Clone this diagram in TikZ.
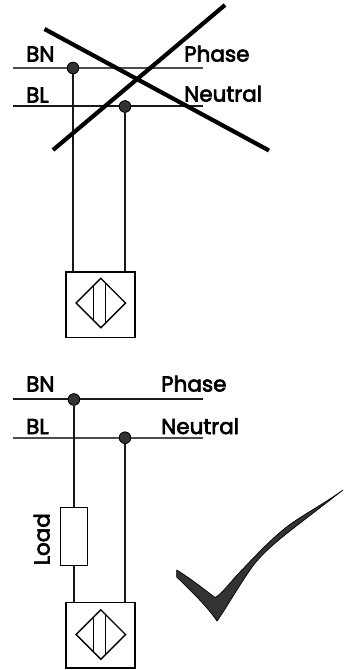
\documentclass[tikz,border=0pt]{standalone}
\usepackage{fontspec}
\setmainfont{Poppins}[FakeBold=3]
\usetikzlibrary{shapes.geometric}
\tikzset{
  wire/.style={draw=black!90,line width=1.7pt},
  thin wire/.style={draw=black!70,line width=1.7pt},
  cross/.style={draw=black,line width=4.2pt},
  dot/.style={circle,fill=black!80,draw=black,line width=.7pt,inner sep=0pt,minimum size=11.5pt},
  lbl/.style={anchor=base west,inner sep=0pt,font=\fontsize{21.5}{22}\selectfont},
  sensor/.style={rectangle,draw=black,line width=1.5pt,fill=white,inner sep=0pt,minimum width=69pt,minimum height=65.5pt},
  gem/.style={diamond,aspect=1,draw=black,line width=1.4pt,inner sep=0pt,minimum width=50pt,minimum height=50pt},
  loadbox/.style={rectangle,draw=black,line width=1.5pt,fill=white,inner sep=0pt,minimum width=27pt,minimum height=58pt},
}
\begin{document}
\begin{tikzpicture}[x=1pt,y=-1pt]
\useasboundingbox (0,0) rectangle (350,670);
% upper circuit
\coordinate (a1) at (13,68); \coordinate (a2) at (203,68);
\coordinate (b1) at (13,106); \coordinate (b2) at (203,106);
\node[dot] (d1) at (73,68) {};
\node[dot] (d2) at (125,106.5) {};
\node[sensor] (s1) at (100.5,304.5) {};
\node[gem] (g1) at (100.8,303) {};
\draw[thin wire] (a1) -- (a2);
\draw[wire] (b1) -- (b2);
\draw[wire] (d1) -- (d1 |- s1.north);
\draw[wire] (d2) -- (d2 |- s1.north);
\node[dot] at (d1) {};
\node[dot] at (d2) {};
\draw[line width=1.4pt] (93.7,285) -- (93.7,320.5) (105.2,283.5) -- (105.2,322);
\node[lbl] (t1) at (26,61.5) {BN};
\node[lbl] (t2) at (26,102.5) {BL};
\node[lbl] (t3) at (184,61.5) {Phase};
\node[lbl] (t4) at (184,101.5) {Neutral};
\coordinate (x1) at (44.5,29); \coordinate (x2) at (269,150.5);
\coordinate (x3) at (53,150); \coordinate (x4) at (225,5);
\draw[cross] (x1) -- (x2);
\draw[cross] (x3) -- (x4);
% lower circuit
\coordinate (c1) at (13,399); \coordinate (c2) at (203,399);
\coordinate (e1) at (13,438); \coordinate (e2) at (203,438);
\node[dot] (d3) at (73.9,399.5) {};
\node[dot] (d4) at (125,437.7) {};
\node[loadbox] (l) at (73.9,536.7) {};
\node[sensor] (s2) at (100.5,635.2) {};
\node[gem] (g2) at (100.8,634.5) {};
\draw[wire] (c1) -- (c2);
\draw[thin wire] (e1) -- (e2);
\draw[wire] (d3) -- (l.north);
\draw[wire] (l.south) -- (l.south |- s2.north);
\draw[wire] (d4) -- (d4 |- s2.north);
\node[dot] at (d3) {};
\node[dot] at (d4) {};
\draw[line width=1.4pt] (93.5,616.5) -- (93.5,652) (105.2,615) -- (105.2,653.5);
\node[lbl] (t5) at (26,391.5) {BN};
\node[lbl] (t6) at (26,434) {BL};
\node[lbl] (t7) at (161,391.5) {Phase};
\node[lbl] (t8) at (161,434) {Neutral};
\node[lbl,rotate=90] (t9) at (49.5,565.5) {Load};
% check mark
\draw[fill=black!80,draw=black,line width=.7pt,line join=round]
  (343,490) .. controls (325,503) and (308,512) .. (292,523)
  .. controls (275,535) and (258,553) .. (240,572)
  .. controls (232,580) and (221,595) .. (215,597.5)
  .. controls (205,590) and (190,578) .. (176.7,570)
  -- (176.7,577)
  .. controls (190,590) and (206,605) .. (217,621)
  .. controls (225,610) and (235,592) .. (250,570)
  .. controls (262,552) and (285,535) .. (295,527)
  .. controls (312,514) and (330,500) .. (343,490) -- cycle;
\end{tikzpicture}
\end{document}
